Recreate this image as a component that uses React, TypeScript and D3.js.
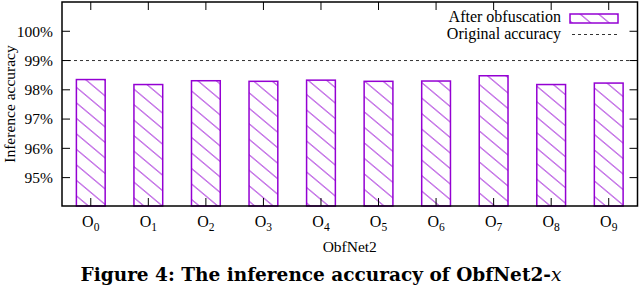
import React from "react";
import * as d3 from "d3";

const categories = ["0", "1", "2", "3", "4", "5", "6", "7", "8", "9"];
const values = [98.35, 98.18, 98.31, 98.29, 98.33, 98.29, 98.3, 98.48, 98.18, 98.23];
const originalAccuracy = 99;
const yTicks = [95, 96, 97, 98, 99, 100];

const W = 640;
const H = 286;
const left = 62;
const right = 637.5;
const top = 2;
const bottom = 206;
const purple = "#9400D3";
const font = "'Liberation Serif', 'Times New Roman', serif";

export default function App() {
  const x = d3.scaleLinear().domain([-0.5, 9.5]).range([left, right]);
  const y = d3.scaleLinear().domain([94.03, 101]).range([bottom, top]);
  const barW = x(0.25) - x(-0.25);
  const tickLen = 8;

  return (
    <svg
      width={W}
      height={H}
      style={{ position: "absolute", left: 0, top: 0, background: "#fff", fontFamily: font }}
    >
      <defs>
        <pattern
          id="hatch"
          patternUnits="userSpaceOnUse"
          width={18}
          height={15.5}
          patternTransform="skewY(40)"
        >
          <line x1={0} y1={7.75} x2={18} y2={7.75} stroke={purple} strokeWidth={1} />
        </pattern>
      </defs>
      <rect x={0} y={0} width={W} height={H} fill="#fff" />

      {values.map((v, i) => (
        <rect
          key={categories[i]}
          x={x(i) - barW / 2}
          y={y(v)}
          width={barW}
          height={bottom - y(v)}
          fill="url(#hatch)"
          stroke={purple}
          strokeWidth={1.5}
        />
      ))}

      <line
        x1={left}
        x2={right}
        y1={y(originalAccuracy)}
        y2={y(originalAccuracy)}
        stroke="#333"
        strokeWidth={1}
        strokeDasharray="3,3"
      />

      {yTicks.map((t) => (
        <g key={t}>
          <line x1={left} x2={left + tickLen} y1={y(t)} y2={y(t)} stroke="#000" strokeWidth={1} />
          <line x1={right} x2={right - tickLen} y1={y(t)} y2={y(t)} stroke="#000" strokeWidth={1} />
          <text x={53} y={y(t)} dy="0.35em" textAnchor="end" fontSize={15.5} fill="#000">
            {t}%
          </text>
        </g>
      ))}

      {categories.map((c, i) => (
        <g key={c}>
          <line x1={x(i)} x2={x(i)} y1={top} y2={top + tickLen} stroke="#000" strokeWidth={1} />
          <line x1={x(i)} x2={x(i)} y1={bottom} y2={bottom - tickLen} stroke="#000" strokeWidth={1} />
          <text x={x(i)} y={227} textAnchor="middle" fontSize={16} fill="#000">
            O
            <tspan fontSize={11.5} dy={4}>
              {c}
            </tspan>
          </text>
        </g>
      ))}

      <rect
        x={left}
        y={top}
        width={right - left}
        height={bottom - top}
        fill="none"
        stroke="#000"
        strokeWidth={1.5}
      />

      <text x={561} y={22} textAnchor="end" fontSize={16} fill="#000">
        After obfuscation
      </text>
      <rect x={570} y={14} width={48} height={9} fill="url(#hatch)" stroke={purple} strokeWidth={1.5} />
      <text x={561} y={38.5} textAnchor="end" fontSize={16} fill="#000">
        Original accuracy
      </text>
      <line x1={572} x2={617} y1={34.5} y2={34.5} stroke="#333" strokeWidth={1} strokeDasharray="3,3" />

      <text
        transform={`translate(15, ${(top + bottom) / 2}) rotate(-90)`}
        textAnchor="middle"
        fontSize={15.5}
        fill="#000"
      >
        Inference accuracy
      </text>
      <text x={(left + right) / 2} y={252} textAnchor="middle" fontSize={15.5} fill="#000">
        ObfNet2
      </text>

      <text
        x={321}
        y={281}
        textAnchor="middle"
        fontSize={18.5}
        fontWeight="bold"
        fill="#000"
        style={{ fontFamily: "'DejaVu Serif', serif" }}
      >
        Figure 4: The inference accuracy of ObfNet2-<tspan fontStyle="italic" fontWeight="normal">x</tspan>
      </text>
    </svg>
  );
}
